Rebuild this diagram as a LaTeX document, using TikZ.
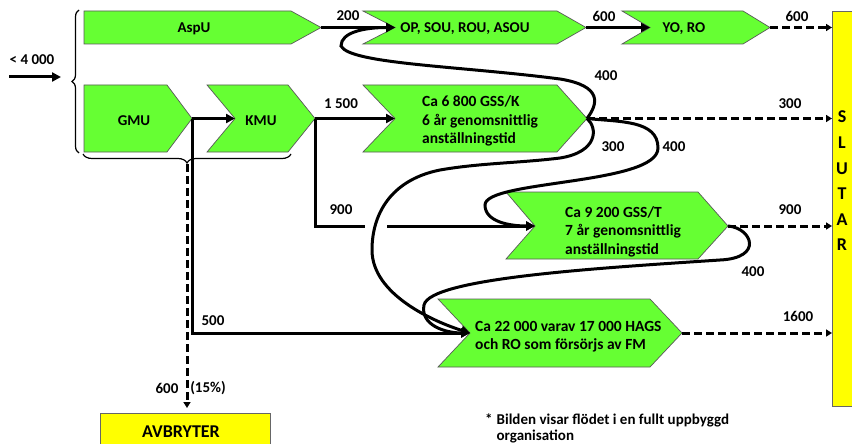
\documentclass[tikz,border=0pt]{standalone}
\usepackage{fontspec}
\setmainfont{Carlito}
\usetikzlibrary{arrows.meta,decorations.pathreplacing}
\definecolor{chgreen}{RGB}{102,255,51}
\definecolor{sy}{RGB}{255,255,0}
\begin{document}
\begin{tikzpicture}[x=1pt,y=-1pt,
  chev/.style={fill=chgreen,draw=black!65,line width=0.7pt},
  ybox/.style={fill=sy,draw=black!60,line width=0.8pt},
  txt/.style={font=\fontsize{15.5}{18.5}\selectfont\bfseries,inner sep=0pt,align=left},
  lbl/.style={font=\fontsize{15}{18}\selectfont\bfseries,inner sep=0pt},
  big/.style={font=\fontsize{18}{25.6}\selectfont\bfseries,inner sep=0pt,align=center},
  conn/.style={line width=3pt},
  arr/.style={conn,-{Triangle[length=9pt,width=9pt]}},
  darr/.style={line width=3pt,dash pattern=on 8pt off 4pt,-{Triangle[length=6pt,width=7pt]}},
  brc/.style={line width=1.2pt,decorate},
]
\useasboundingbox (0,0) rectangle (852,444);

% top row
\draw[chev] (84,11) -- (291,11) -- (321,27.5) -- (291,44) -- (84,44) -- cycle;
\coordinate (aspuT) at (321,27.5);
\node[lbl] (aspu) at (194,28.5) {AspU};

\draw[chev] (363,11) -- (557,11) -- (586,27.5) -- (557,44) -- (363,44) -- (395,27.5) -- cycle;
\coordinate (opN) at (395,27.5);
\coordinate (opT) at (586,27.5);
\node[lbl] (op) at (465,28.5) {OP, SOU, ROU, ASOU};

\draw[chev] (622,11) -- (743,11) -- (770,27.5) -- (743,44) -- (622,44) -- (650,27.5) -- cycle;
\coordinate (yoN) at (650,27.5);
\coordinate (yoT) at (770,27.5);
\node[lbl] (yo) at (684,28.5) {YO, RO};

% second row
\draw[chev] (84,85) -- (167,85) -- (192,118.5) -- (167,152) -- (84,152) -- cycle;
\coordinate (gmuT) at (192,118.5);
\node[lbl] (gmu) at (134,121) {GMU};

\draw[chev] (207,85) -- (288,85) -- (315,118.5) -- (288,152) -- (207,152) -- (235,118.5) -- cycle;
\coordinate (kmuN) at (235,118.5);
\coordinate (kmuT) at (315,118.5);
\node[lbl] (kmu) at (261,121) {KMU};

\draw[chev] (363,85) -- (557,85) -- (587,118.5) -- (557,152) -- (363,152) -- (395,118.5) -- cycle;
\coordinate (ca6N) at (395,118.5);
\coordinate (ca6T) at (587,118.5);
\node[txt,anchor=west] (ca6) at (422,121) {Ca 6 800 GSS/K\\6 år genomsnittlig\\anställningstid};

\draw[chev] (506,192) -- (698,192) -- (728,226) -- (698,259) -- (506,259) -- (535,226) -- cycle;
\coordinate (ca9N) at (535,226);
\coordinate (ca9T) at (728,226);
\node[txt,anchor=west] (ca9) at (565,231.5) {Ca 9 200 GSS/T\\7 år genomsnittlig\\anställningstid};

\draw[chev] (438,299) -- (650,299) -- (682,333) -- (650,367) -- (438,367) -- (470,333) -- cycle;
\coordinate (ca22N) at (470,333);
\coordinate (ca22T) at (682,333);
\node[txt,anchor=west] (ca22) at (475,336.5) {Ca 22 000 varav 17 000 HAGS\\och RO som försörjs av FM};

% SLUTAR and AVBRYTER
\node[ybox,anchor=north west,minimum width=26pt,minimum height=395pt,inner sep=0pt] (slut) at (832,11) {};
\node[big] (sluttxt) at (842,181) {S\\L\\U\\T\\A\\R};
\node[ybox,anchor=north west,minimum width=170pt,minimum height=40pt,inner sep=0pt] (avb) at (100,413) {};
\node[big] (avbtxt) at (181,432) {AVBRYTER};

% braces
\draw[brc,decoration={brace,amplitude=7pt}] (79,153) -- (79,10);
\draw[brc,decoration={brace,amplitude=9pt}] (291,154) -- (83,154);
\coordinate (brtip) at (187,164);

% input arrow
\coordinate (in0) at (9,77);
\coordinate (in1) at (61,77);
\draw[arr] (in0) -- (in1);
\node[lbl] (l4000) at (32,60) {< 4 000};

% straight connectors
\draw[arr] (aspuT) -- (opN);
\draw[arr] (opT) -- (yoN);
\draw[darr] (yoT) -- (yoT -| slut.west);
\draw[arr] (gmuT) -- (kmuN);
\draw[arr] (kmuT) -- (ca6N);
\draw[darr] (ca6T) -- (ca6T -| slut.west);
\draw[darr] (ca9T) -- (ca9T -| slut.west);
\draw[darr] (ca22T) -- (ca22T -| slut.west);
\coordinate (gapL) at (365,226);
\coordinate (gapR) at (387,226);
\draw[conn] (kmuT) |- (gapL);
\draw[arr] (gapR) -- (ca9N);
\draw[arr] (gmuT) |- (ca22N);
\draw[darr,shorten >=5pt] (brtip) -- (brtip |- avb.north);

% curved connectors
\draw[arr] (ca6T) .. controls (598,104) and (603,86) .. (560,79)
  .. controls (460,66) and (350,64) .. (341,46)
  .. controls (341,32) and (365,27.5) .. (opN);
\draw[arr] (ca6T) .. controls (598,128) and (598,152) .. (560,158)
  .. controls (520,163) and (480,163) .. (440,170)
  .. controls (390,180) and (372,215) .. (372,250)
  .. controls (372,295) and (435,322) .. (ca22N);
\draw[arr] (ca6T) .. controls (620,122) and (658,120) .. (658,148)
  .. controls (658,185) and (485,180) .. (485,205)
  .. controls (485,222) and (510,226) .. (ca9N);
\draw[arr] (ca9T) .. controls (752,228) and (764,258) .. (720,260)
  .. controls (600,268) and (430,278) .. (424,305)
  .. controls (420,325) and (445,333) .. (ca22N);

% labels
\node[lbl] (l200) at (348,16) {200};
\node[lbl] (l600a) at (604,16) {600};
\node[lbl] (l600b) at (797,16) {600};
\node[lbl] (l1500) at (341,104) {1 500};
\node[lbl] (l400a) at (606,76) {400};
\node[lbl] (l300a) at (790,104) {300};
\node[lbl] (l300b) at (613,147) {300};
\node[lbl] (l400b) at (674,147) {400};
\node[lbl] (l900a) at (341,210) {900};
\node[lbl] (l900b) at (790,210) {900};
\node[lbl] (l400c) at (753,272) {400};
\node[lbl] (l1600) at (798,316) {1600};
\node[lbl] (l500) at (213,321) {500};
\node[lbl] (l600c) at (167,388) {600};
\node[lbl] (l15) at (208,388) {(15\%)};
\node[lbl,anchor=north west,align=left] (note) at (485,412)
  {\begin{tabular}{@{}l@{\hspace{4pt}}l@{}}*&Bilden visar flödet i en fullt uppbyggd\\[-2pt]&organisation\end{tabular}};
\end{tikzpicture}
\end{document}
